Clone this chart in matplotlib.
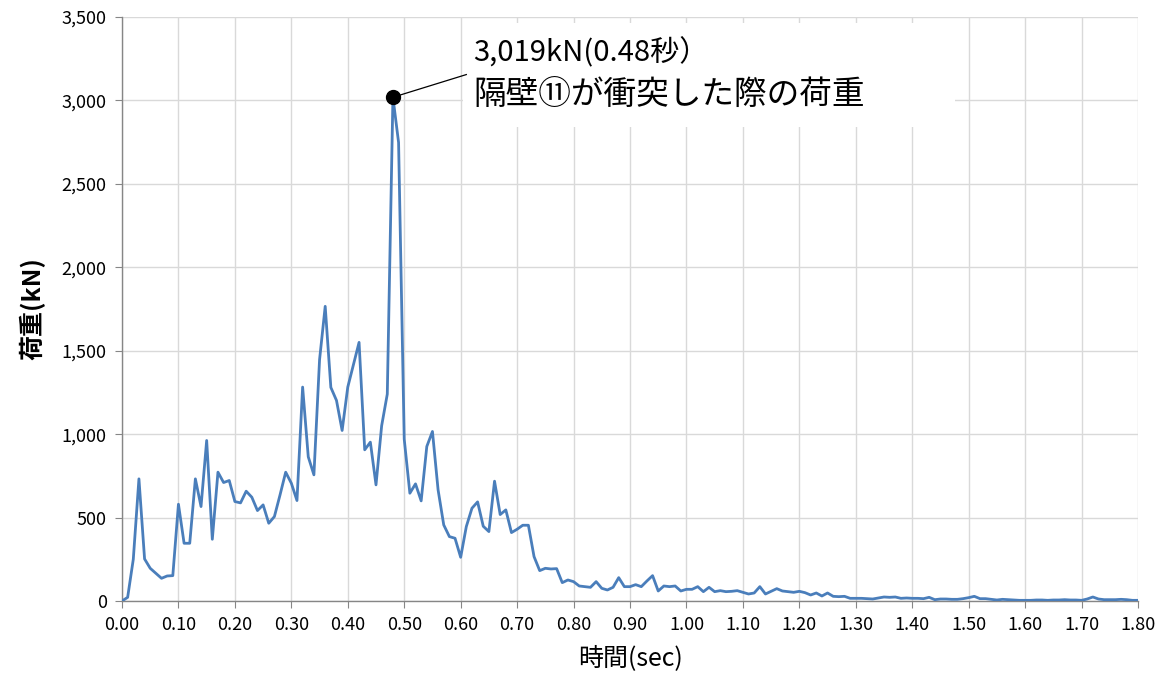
import matplotlib
matplotlib.use("Agg")
import matplotlib.pyplot as plt
import numpy as np

plt.rcParams['font.family'] = ['Noto Sans CJK JP', 'DejaVu Sans']

# time step 0.01 s, 0.00 .. 1.80
time_start = 0.0
time_step = 0.01
load_kN = [
    0, 22, 250, 732, 252, 196, 166, 136, 150, 152,          # 0.00-0.09
    580, 346, 346, 732, 566, 962, 370, 772, 710, 722,       # 0.10-0.19
    596, 588, 658, 622, 542, 576, 466, 506, 636, 772,       # 0.20-0.29
    706, 602, 1282, 864, 756, 1446, 1766, 1280, 1202, 1022, # 0.30-0.39
    1282, 1416, 1550, 906, 952, 696, 1050, 1240, 3019, 2748,# 0.40-0.49
    970, 646, 702, 600, 926, 1016, 666, 456, 386, 376,      # 0.50-0.59
    262, 446, 556, 594, 448, 416, 718, 518, 546, 410,       # 0.60-0.69
    430, 454, 454, 266, 182, 196, 192, 194, 110, 126,       # 0.70-0.79
    116, 90, 86, 82, 116, 76, 66, 82, 140, 86,              # 0.80-0.89
    86, 98, 86, 120, 152, 60, 90, 86, 90, 60,               # 0.90-0.99
    70, 70, 86, 56, 82, 56, 62, 56, 58, 62,                 # 1.00-1.09
    52, 42, 48, 86, 42, 58, 74, 60, 56, 52,                 # 1.10-1.19
    58, 50, 36, 48, 30, 48, 28, 26, 28, 16,                 # 1.20-1.29
    16, 16, 14, 12, 18, 24, 22, 24, 16, 18,                 # 1.30-1.39
    16, 16, 14, 22, 8, 12, 12, 10, 10, 14,                  # 1.40-1.49
    20, 28, 14, 14, 10, 6, 10, 8, 6, 4,                     # 1.50-1.59
    4, 4, 6, 6, 4, 6, 6, 8, 6, 6,                           # 1.60-1.69
    4, 12, 24, 12, 8, 8, 8, 10, 8, 4,                       # 1.70-1.79
    4,                                                      # 1.80
]
peak_time = 0.48
peak_load = 3019
annotation_lines = ["3,019kN(0.48秒）", "隔壁⑪が衝突した際の荷重"]
x_label = "時間(sec)"
y_label = "荷重(kN)"

times = time_start + time_step * np.arange(len(load_kN))

fig = plt.figure(figsize=(11.65, 6.86), dpi=100)
ax = fig.add_axes([122/1165, 1 - 601/686, (1138-122)/1165, (601-17)/686])

ax.plot(times, load_kN, color='#4a7ebb', linewidth=2.0, zorder=3, solid_joinstyle='round')
ax.plot([peak_time], [peak_load], 'o', color='black', markersize=10, zorder=5)

ax.set_xlim(0, 1.80)
ax.set_ylim(0, 3500)
ax.set_xticks(np.arange(0, 1.8001, 0.1))
ax.set_xticklabels([f"{v:.2f}" for v in np.arange(0, 1.8001, 0.1)])
ax.set_yticks(np.arange(0, 3501, 500))
ax.set_yticklabels([f"{int(v):,}" for v in np.arange(0, 3501, 500)])

ax.grid(True, color='#d9d9d9', linewidth=1.0, zorder=0)
ax.set_axisbelow(True)
for s in ['top', 'right']:
    ax.spines[s].set_visible(False)
for s in ['left', 'bottom']:
    ax.spines[s].set_color('#868686')
    ax.spines[s].set_linewidth(1.0)
ax.tick_params(axis='both', direction='out', length=5, color='#868686',
               labelsize=13, labelcolor='black', pad=6)

ax.set_xlabel(x_label, fontsize=18, labelpad=8)
ax.set_ylabel(y_label, fontsize=18, labelpad=12, fontweight='bold')

# white box behind annotation text
ax.add_patch(plt.Rectangle((0.605, 2842), 0.87, 620, facecolor='white',
                           edgecolor='none', zorder=2))
ax.plot([peak_time, 0.61], [peak_load, 3155], color='black', linewidth=0.9, zorder=4)
ax.text(0.623, 3283, annotation_lines[0], fontsize=21, va='center', ha='left', zorder=6)
ax.text(0.623, 3030, annotation_lines[1], fontsize=23.5, va='center', ha='left', zorder=6)

fig.savefig("out.png", dpi=100)
